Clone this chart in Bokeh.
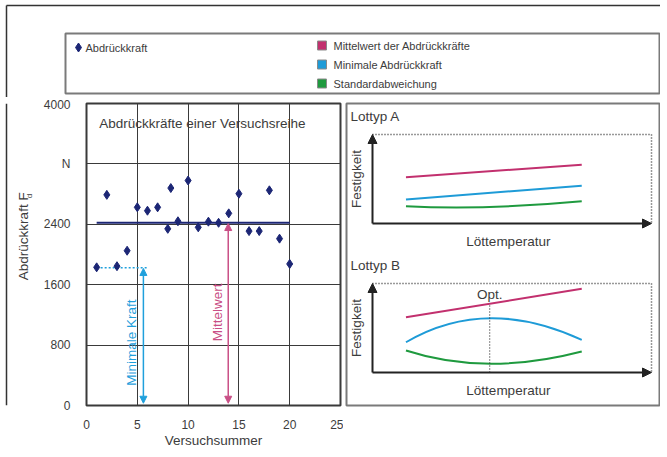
import math
import numpy as np
from bokeh.plotting import figure
from bokeh.models import Range1d, FixedTicker, Arrow, NormalHead
from bokeh.layouts import column, row
from bokeh.embed import file_html
from bokeh.resources import INLINE
from bokeh.core.properties import value

# ---------------- data ----------------
trial_no = [1, 2, 3, 4, 5, 6, 7, 8, 8.3, 9, 10, 11, 12, 13, 14, 15, 16, 17, 18, 19, 20]
force_N = [1830, 2790, 1845, 2050, 2625, 2580, 2625, 2340, 2880, 2440, 2980,
           2360, 2435, 2420, 2545, 2805, 2310, 2310, 2850, 2210, 1875]
mean_force = 2420
min_force = 1825
x_ticks = [0, 5, 10, 15, 20, 25]
y_ticks = [0, 800, 1600, 2400, 3200, 4000]
y_tick_labels = ["0", "800", "1600", "2400", "N", "4000"]

legend_labels = ["Mittelwert der Abdrückkräfte", "Minimale Abdrückkraft", "Standardabweichung"]

# schematic panels (arbitrary units: temperature 0-10, strength 0-10)
# straight lines: (start temp, end temp), (start, end) strength
tempA_line = [1.2, 7.5]
meanA = [5.2, 6.6]
minA = [2.7, 4.25]
tempB_line = [1.2, 7.5]
meanB = [6.2, 9.4]
# curved lines: start, middle and end points (temp, strength)
curve_temp = [1.2, 4.2, 7.5]
sdA = [1.94, 1.86, 2.5]
minB = [3.4, 6.1, 3.67]
sdB = [2.47, 0.98, 2.36]
opt_temp = 4.2

# ---------------- style ----------------
FONT = "Liberation Sans"
TXT = "#3c3c3c"
GRID = "#3a3a3a"
BOX = "#7a7a7a"
FRAME = "#333333"
NAVY = "#1c2675"
MAG = "#c2306e"
CYAN = "#1e9bd7"
GREEN = "#1f9a3f"
MAG_L = "#c94f86"
CYAN_L = "#1fa0dc"
series_colors = [MAG, CYAN, GREEN]

W, TOP_H, BOT_H = 660, 97, 356
LAB_W, LEFT_W = 40, 303
RIGHT_W = W - LAB_W - LEFT_W
FRAME_X, FRAME_Y = 6, 5


def canvas_fig(w, h):
    f = figure(width=w, height=h, x_range=Range1d(0, w), y_range=Range1d(h, 0),
               min_border=0, toolbar_location=None, output_backend="svg",
               x_axis_location=None, y_axis_location=None, title=None,
               outline_line_color=None)
    f.grid.visible = False
    return f


# ---------------- top band: frame + legend ----------------
top = canvas_fig(W, TOP_H)
top.segment(x0=[FRAME_X, FRAME_X], y0=[FRAME_Y, FRAME_Y], x1=[W, FRAME_X], y1=[FRAME_Y, TOP_H],
            line_color=FRAME, line_width=1.5)
top.quad(left=[65], right=[659], top=[33], bottom=[93], fill_color=None,
         line_color=BOX, line_width=2)
top.scatter(x=[78], y=[47], marker="diamond", size=9, color=NAVY)
top.text(x=[85], y=[47], text=["Abdrückkraft"], text_font=value(FONT),
         text_font_size="11px", text_color=TXT, text_baseline="middle")
leg_y = [45, 64, 83]
top.scatter(x=[321.5] * 3, y=leg_y, marker="square", size=9,
            fill_color=series_colors, line_color="#8a8a8a", line_width=1)
top.text(x=[333] * 3, y=leg_y, text=legend_labels, text_font=value(FONT),
         text_font_size="11px", text_color=TXT, text_baseline="middle")

# ---------------- left strip: outer frame line + y-axis title ----------------
lab = canvas_fig(LAB_W, BOT_H)
lab.segment(x0=[FRAME_X], y0=[0], x1=[FRAME_X], y1=[BOT_H], line_color=FRAME, line_width=1.5)
lab.text(x=[23], y=[253.5 - TOP_H], text=["Abdrückkraft F"], angle=math.pi / 2,
         text_align="center", text_baseline="middle", text_font=value(FONT),
         text_font_size="13.5px", text_color=TXT)
lab.text(x=[29], y=[206 - TOP_H], text=["d"], angle=math.pi / 2,
         text_align="center", text_baseline="middle", text_font=value(FONT),
         text_font_size="8px", text_color=TXT)

# ---------------- left: scatter chart ----------------
P_L, P_R, P_T, P_B = 82, 340, 103, 405
p = figure(width=LEFT_W, height=BOT_H, x_range=Range1d(0, 25), y_range=Range1d(0, 4000),
           min_border_left=P_L - LAB_W, min_border_right=LAB_W + LEFT_W - P_R,
           min_border_top=P_T - TOP_H, min_border_bottom=TOP_H + BOT_H - P_B,
           toolbar_location=None, output_backend="svg", title=None,
           outline_line_color=GRID, outline_line_width=2)
for ax in (p.xaxis[0], p.yaxis[0]):
    ax.axis_line_color = None
    ax.major_tick_line_color = None
    ax.minor_tick_line_color = None
    ax.major_label_text_font = FONT
    ax.major_label_text_font_size = "12px"
    ax.major_label_text_color = TXT
    ax.axis_label_text_font = FONT
    ax.axis_label_text_font_size = "13.5px"
    ax.axis_label_text_font_style = "normal"
    ax.axis_label_text_color = TXT
p.xaxis.ticker = FixedTicker(ticks=x_ticks)
p.yaxis.ticker = FixedTicker(ticks=y_ticks)
p.yaxis.major_label_overrides = {t: lab_ for t, lab_ in zip(y_ticks, y_tick_labels)}
p.xaxis.major_label_standoff = 8
p.yaxis.major_label_standoff = 10
p.xaxis.axis_label = "Versuchsummer"
p.xaxis.axis_label_standoff = 1
p.grid.grid_line_color = GRID
p.grid.grid_line_width = 1

p.text(x=[1.25], y=[3735], text=["Abdrückkräfte einer Versuchsreihe"], text_font=value(FONT),
       text_font_size="13.5px", text_color=TXT, text_baseline="middle")
p.line(x=[min(trial_no), max(trial_no)], y=[mean_force, mean_force], line_color=NAVY, line_width=2)
p.line(x=[min(trial_no), 6.05], y=[min_force, min_force], line_color=CYAN_L, line_width=1.5,
       line_dash="2 2")
p.scatter(x=trial_no, y=force_N, marker="diamond", size=9, color=NAVY)

min_x, mean_x = 5.6, 13.95
for xx, yy, col in [(min_x, min_force, CYAN_L), (mean_x, mean_force, MAG_L)]:
    p.add_layout(Arrow(start=NormalHead(size=7, fill_color=col, line_color=col),
                       end=NormalHead(size=7, fill_color=col, line_color=col),
                       x_start=xx, y_start=yy - 10, x_end=xx, y_end=30,
                       line_color=col, line_width=1.5))
p.text(x=[4.45], y=[834], text=["Minimale Kraft"], angle=math.pi / 2, text_align="center",
       text_baseline="middle", text_font=value(FONT), text_font_size="13.5px", text_color=CYAN_L)
p.text(x=[12.9], y=[1232], text=["Mittelwert"], angle=math.pi / 2, text_align="center",
       text_baseline="middle", text_font=value(FONT), text_font_size="13.5px", text_color=MAG_L)

# ---------------- right: schematic panels ----------------
FR_L, FR_R, FR_T, FR_B = LAB_W + LEFT_W + 3, W - 1, P_T, P_B   # page px of the panel box
X0, X1 = 372, 651                                     # page px of temperature 0..10
YA0, YA1 = 223, 134                                   # page px of strength 0..10 (A)
YB0, YB1 = 372, 283                                   # page px of strength 0..10 (B)
pxT = (X1 - X0) / 10.0
pxSA = (YA0 - YA1) / 10.0
pxSB = (YB0 - YB1) / 10.0
xr = Range1d(-(X0 - FR_L) / pxT, 10 + (FR_R - X1) / pxT)
yA = Range1d(-(FR_B - YA0) / pxSA, 10 + (YA1 - FR_T) / pxSA)
yB = Range1d(-(FR_B - YB0) / pxSB, 10 + (YB1 - FR_T) / pxSB)

r = figure(width=RIGHT_W, height=BOT_H, x_range=xr, y_range=yA,
           min_border_left=FR_L - (LAB_W + LEFT_W), min_border_right=W - FR_R,
           min_border_top=FR_T - TOP_H, min_border_bottom=TOP_H + BOT_H - FR_B,
           toolbar_location=None, output_backend="svg", title=None,
           x_axis_location=None, y_axis_location=None,
           outline_line_color=BOX, outline_line_width=2)
r.extra_y_ranges = {"B": yB}
r.grid.visible = False


def arc(fig, xs, ys, col, rn):
    # quadratic Bezier through start, middle and end point
    cx = 2 * xs[1] - (xs[0] + xs[2]) / 2
    cy = 2 * ys[1] - (ys[0] + ys[2]) / 2
    fig.quadratic(x0=[xs[0]], y0=[ys[0]], x1=[xs[2]], y1=[ys[2]], cx=[cx], cy=[cy],
                  line_color=col, line_width=2, y_range_name=rn)


panels = [
    ("default", "Lottyp A", [(tempA_line, meanA, MAG), (tempA_line, minA, CYAN)], [(sdA, GREEN)]),
    ("B", "Lottyp B", [(tempB_line, meanB, MAG)], [(minB, CYAN), (sdB, GREEN)]),
]
for rn, title, lines, arcs in panels:
    for xs, ys, col in lines:
        r.line(x=xs, y=ys, line_color=col, line_width=2, y_range_name=rn)
    for ys, col in arcs:
        arc(r, curve_temp, ys, col, rn)
    r.line(x=[0, 10, 10], y=[10, 10, 0], line_color=FRAME, line_width=1.5,
           line_dash="1 2", y_range_name=rn)
    head = dict(size=9, fill_color="#222222", line_color="#222222")
    r.add_layout(Arrow(end=NormalHead(**head), x_start=0, y_start=0, x_end=0, y_end=10,
                       line_color="#222222", line_width=2, y_range_name=rn))
    r.add_layout(Arrow(end=NormalHead(**head), x_start=0, y_start=0, x_end=10, y_end=0,
                       line_color="#222222", line_width=2, y_range_name=rn))
    r.text(x=[-0.79], y=[12.0], text=[title], text_font=value(FONT), text_font_size="13.5px",
           text_color=TXT, text_baseline="middle", y_range_name=rn)
    r.text(x=[-0.57], y=[5.0], text=["Festigkeit"], angle=math.pi / 2, text_align="center",
           text_baseline="middle", text_font=value(FONT), text_font_size="13.5px",
           text_color=TXT, y_range_name=rn)
    r.text(x=[4.87], y=[-2.02], text=["Löttemperatur"], text_align="center",
           text_baseline="middle", text_font=value(FONT), text_font_size="13.5px",
           text_color=TXT, y_range_name=rn)

opt_top = float(np.interp(opt_temp, tempB_line, meanB))
r.line(x=[opt_temp, opt_temp], y=[0, opt_top], line_color=FRAME, line_width=1.2,
       line_dash="1 2", y_range_name="B")
r.text(x=[opt_temp], y=[8.8], text=["Opt."], text_align="center", text_baseline="middle",
       text_font=value(FONT), text_font_size="13.5px", text_color=TXT, y_range_name="B")

layout = column(top, row(lab, p, r))
open("out.html", "w").write(file_html(layout, INLINE))
